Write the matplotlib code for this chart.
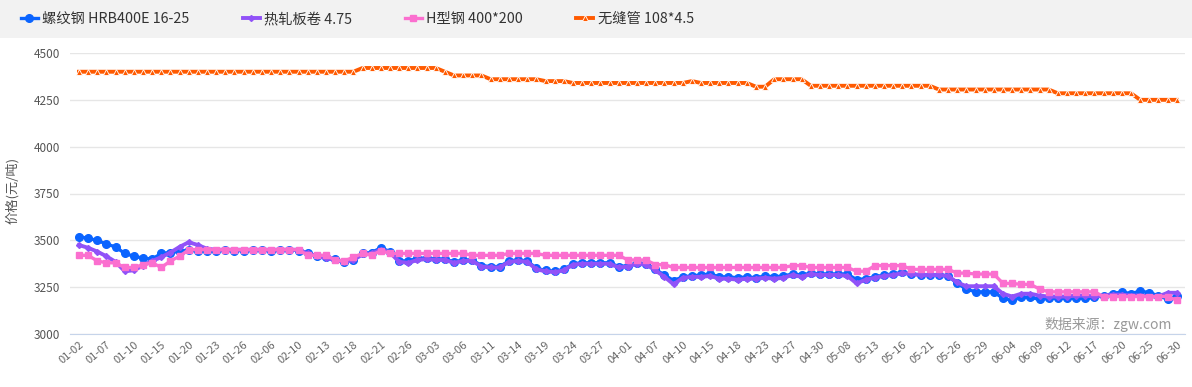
import matplotlib.pyplot as plt
from matplotlib.patches import Rectangle

plt.rcParams['font.family'] = ['Noto Sans CJK SC', 'DejaVu Sans']

###### DATA ######
dates = [
    "01-02", "01-03", "01-06", "01-07", "01-08", "01-09", "01-10", "01-13", "01-14", "01-15",
    "01-16", "01-17", "01-20", "01-21", "01-22", "01-23", "01-24", "01-25", "01-26", "01-27",
    "02-05", "02-06", "02-07", "02-08", "02-10", "02-11", "02-12", "02-13", "02-14", "02-17",
    "02-18", "02-19", "02-20", "02-21", "02-24", "02-25", "02-26", "02-27", "02-28", "03-03",
    "03-04", "03-05", "03-06", "03-07", "03-10", "03-11", "03-12", "03-13", "03-14", "03-17",
    "03-18", "03-19", "03-20", "03-21", "03-24", "03-25", "03-26", "03-27", "03-28", "03-31",
    "04-01", "04-02", "04-03", "04-07", "04-08", "04-09", "04-10", "04-11", "04-14", "04-15",
    "04-16", "04-17", "04-18", "04-21", "04-22", "04-23", "04-24", "04-25", "04-27", "04-28",
    "04-29", "04-30", "05-06", "05-07", "05-08", "05-09", "05-12", "05-13", "05-14", "05-15",
    "05-16", "05-19", "05-20", "05-21", "05-22", "05-23", "05-26", "05-27", "05-28", "05-29",
    "05-30", "06-03", "06-04", "06-05", "06-06", "06-09", "06-10", "06-11", "06-12", "06-13",
    "06-16", "06-17", "06-18", "06-19", "06-20", "06-23", "06-24", "06-25", "06-26", "06-27",
    "06-30",
]

rebar = [  # 螺纹钢 HRB400E 16-25
    3520, 3510, 3500, 3480, 3465, 3430, 3415, 3405, 3400, 3430,
    3435, 3440, 3450, 3445, 3445, 3445, 3450, 3445, 3445, 3450,
    3450, 3445, 3450, 3450, 3445, 3435, 3415, 3410, 3400, 3385,
    3395, 3430, 3435, 3460, 3440, 3390, 3390, 3405, 3405, 3400,
    3400, 3385, 3395, 3395, 3365, 3360, 3360, 3390, 3395, 3390,
    3350, 3340, 3335, 3345, 3375, 3380, 3380, 3380, 3380, 3360,
    3365, 3380, 3375, 3345, 3315, 3285, 3305, 3310, 3315, 3320,
    3305, 3305, 3300, 3305, 3300, 3310, 3305, 3310, 3320, 3315,
    3325, 3320, 3320, 3320, 3320, 3290, 3295, 3305, 3315, 3320,
    3330, 3320, 3315, 3315, 3315, 3310, 3270, 3240, 3225, 3225,
    3225, 3190, 3180, 3195, 3195, 3185, 3190, 3190, 3190, 3190,
    3190, 3195, 3205, 3215, 3225, 3215, 3230, 3220, 3205, 3185,
    3205,
]

hot_coil = [  # 热轧板卷 4.75
    3475, 3460, 3440, 3415, 3385, 3335, 3340, 3365, 3390, 3410,
    3435, 3465, 3490, 3475, 3455, 3450, 3450, 3450, 3450, 3450,
    3450, 3450, 3450, 3450, 3450, 3430, 3415, 3405, 3395, 3385,
    3395, 3425, 3430, 3450, 3435, 3385, 3380, 3395, 3400, 3395,
    3395, 3380, 3390, 3390, 3360, 3355, 3355, 3385, 3390, 3385,
    3345, 3335, 3330, 3340, 3370, 3375, 3375, 3375, 3375, 3355,
    3360, 3375, 3370, 3340, 3305, 3265, 3300, 3305, 3305, 3310,
    3295, 3295, 3290, 3295, 3295, 3300, 3295, 3300, 3315, 3305,
    3320, 3315, 3315, 3315, 3310, 3270, 3290, 3300, 3310, 3315,
    3325, 3320, 3315, 3315, 3315, 3310, 3275, 3255, 3255, 3255,
    3255, 3215, 3200, 3215, 3215, 3205, 3200, 3200, 3200, 3205,
    3205, 3200, 3205, 3210, 3210, 3205, 3205, 3200, 3200, 3220,
    3220,
]

h_beam = [  # H型钢 400*200
    3420, 3420, 3390, 3380, 3380, 3355, 3355, 3370, 3380, 3355,
    3390, 3415, 3450, 3450, 3450, 3450, 3450, 3450, 3450, 3450,
    3450, 3450, 3450, 3450, 3450, 3420, 3420, 3420, 3395, 3390,
    3410, 3430, 3420, 3445, 3430, 3430, 3430, 3430, 3430, 3430,
    3430, 3430, 3430, 3420, 3420, 3420, 3420, 3430, 3430, 3430,
    3430, 3420, 3420, 3420, 3420, 3420, 3420, 3420, 3420, 3420,
    3395, 3395, 3395, 3370, 3370, 3355, 3355, 3355, 3355, 3355,
    3355, 3355, 3355, 3355, 3355, 3355, 3355, 3355, 3365, 3365,
    3355, 3355, 3355, 3355, 3355, 3335, 3335, 3365, 3365, 3365,
    3365, 3345, 3345, 3345, 3345, 3345, 3325, 3325, 3320, 3320,
    3320, 3270, 3270, 3265, 3265, 3240, 3225, 3225, 3225, 3225,
    3225, 3225, 3200, 3200, 3200, 3200, 3200, 3200, 3200, 3200,
    3180,
]

seamless = [  # 无缝管 108*4.5
    4400, 4400, 4400, 4400, 4400, 4400, 4400, 4400, 4400, 4400,
    4400, 4400, 4400, 4400, 4400, 4400, 4400, 4400, 4400, 4400,
    4400, 4400, 4400, 4400, 4400, 4400, 4400, 4400, 4400, 4400,
    4400, 4420, 4420, 4420, 4420, 4420, 4420, 4420, 4420, 4420,
    4400, 4380, 4380, 4380, 4380, 4360, 4360, 4360, 4360, 4360,
    4360, 4350, 4350, 4350, 4340, 4340, 4340, 4340, 4340, 4340,
    4340, 4340, 4340, 4340, 4340, 4340, 4340, 4350, 4340, 4340,
    4340, 4340, 4340, 4340, 4320, 4320, 4360, 4360, 4360, 4360,
    4325, 4325, 4325, 4325, 4325, 4325, 4325, 4325, 4325, 4325,
    4325, 4325, 4325, 4325, 4305, 4305, 4305, 4305, 4305, 4305,
    4305, 4305, 4305, 4305, 4305, 4305, 4305, 4285, 4285, 4285,
    4285, 4285, 4285, 4285, 4285, 4285, 4250, 4250, 4250, 4250,
    4250,
]

labels = ["螺纹钢 HRB400E 16-25", "热轧板卷 4.75", "H型钢 400*200", "无缝管 108*4.5"]
y_ticks = [3000, 3250, 3500, 3750, 4000, 4250, 4500]

###### FIGURE ######
W, H = 1192, 387
fig = plt.figure(figsize=(W / 100, H / 100), dpi=100)
fig.patches.append(Rectangle((0, 1 - 38 / H), 1, 38 / H, transform=fig.transFigure,
                             facecolor="#f2f2f2", edgecolor="none", zorder=0))

ax = fig.add_axes([70 / W, 53 / H, 1115 / W, 281 / H])
x = list(range(len(dates)))

l1, = ax.plot(x, rebar, color="#0a64ff", lw=2.4, marker="o", ms=5.5, zorder=3)
l2, = ax.plot(x, hot_coil, color="#9152f8", lw=2.8, marker="D", ms=3, zorder=4)
l3, = ax.plot(x, h_beam, color="#fb6fcf", lw=2.4, marker="s", ms=5, zorder=5)
l4, = ax.plot(x, seamless, color="#ff5a00", lw=2.8, marker="^", ms=5,
              mec="white", mew=0.6, zorder=6)

ax.set_xlim(-0.98, 120.9)
ax.set_ylim(3000, 4500)
ax.set_yticks(y_ticks)
ax.set_xticks(x[::3])
ax.set_xticklabels(dates[::3], rotation=40, ha="right", rotation_mode="anchor")
ax.tick_params(axis="x", length=0, pad=4, labelsize=8, labelcolor="#666666")
ax.tick_params(axis="y", length=0, pad=7, labelsize=8.5, labelcolor="#555555")
ax.grid(axis="y", color="#e6e6e6", lw=1)
ax.set_axisbelow(True)
for side in ["left", "right", "top"]:
    ax.spines[side].set_visible(False)
ax.spines["bottom"].set_color("#c6d4ea")
ax.spines["bottom"].set_zorder(2)

fig.text(12 / W, 1 - 190 / H, "价格(元/吨)", rotation=90, ha="center", va="center",
         fontsize=9.5, color="#555555")
fig.text(1172 / W, 1 - 325 / H, "数据来源：zgw.com", ha="right", va="center",
         fontsize=10, color="#999999")

fig.legend([l1, l2, l3, l4], labels, ncol=4, loc="center left",
           bbox_to_anchor=(8 / W, 1 - 19 / H), frameon=False, fontsize=10.3,
           handlelength=1.2, handletextpad=0.3, columnspacing=3.7,
           numpoints=1, labelcolor="#333333")

fig.savefig("out.png", dpi=100)
